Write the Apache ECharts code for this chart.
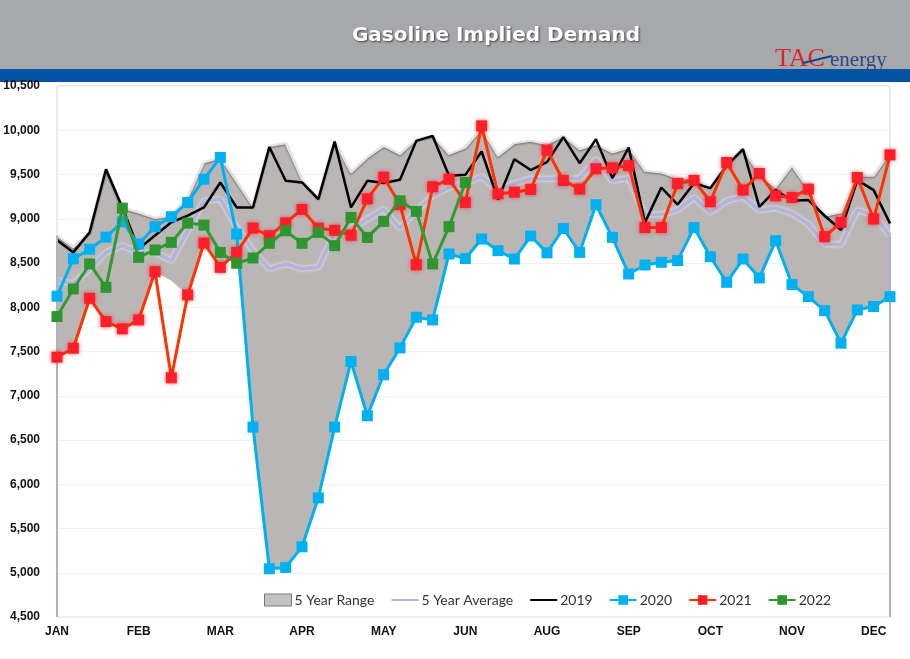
<!DOCTYPE html>
<html>
<head>
<meta charset="utf-8">
<script src="https://cdn.jsdelivr.net/npm/echarts@6/dist/echarts.min.js"></script>
<style>
html,body{margin:0;padding:0;background:#fff;}
#chart{width:910px;height:659px;}
</style>
</head>
<body>
<div id="chart"></div>
<script>
// ---- data ----
const monthLabels = ['JAN','FEB','MAR','APR','MAY','JUN','AUG','SEP','OCT','NOV','DEC'];
const weeks = ['1','2','3','4','5','6','7','8','9','10','11','12','13','14','15','16','17','18','19','20','21','22','23','24','25','26','27','28','29','30','31','32','33','34','35','36','37','38','39','40','41','42','43','44','45','46','47','48','49','50','51','52'];
const yTicks = {min: 4500, max: 10500, step: 500};

const rangeLow = [7436,7537,8101,7838,7756,7857,8402,8300,8139,8726,8451,8620,6646,5045,5060,5293,5846,6646,7387,6774,7237,7541,7887,7857,8602,8550,8771,8639,8545,8805,8615,8890,8620,9158,8790,8376,8478,8508,8527,8900,8571,8282,8545,8331,8752,8256,8120,7962,7594,7970,8008,8120];
const rangeHigh = [8808,8677,8846,9560,9124,9071,9008,9034,9240,9635,9692,9420,9140,9823,9853,9440,9230,9872,9522,9692,9823,9730,9899,9936,9730,9805,10020,9710,9853,9880,9842,9936,9786,9842,9748,9805,9541,9522,9459,9460,9353,9635,9786,9504,9353,9598,9335,9034,9071,9485,9485,9748];
const avg5 = [8301,8271,8432,8620,8696,8620,8620,8526,8865,9203,9222,8903,8639,8433,8489,8433,8451,8840,8895,8995,9109,8893,9090,9260,9350,9400,9475,9320,9400,9453,9453,9456,9459,9673,9429,9459,9053,9045,9100,9240,9071,9203,9248,9098,9121,9060,8940,8715,8707,9098,9045,8808];
const y2019 = [8760,8620,8846,9560,9128,8660,8810,8960,9035,9128,9410,9128,9128,9810,9429,9410,9222,9872,9128,9429,9405,9440,9880,9936,9485,9496,9760,9215,9673,9550,9640,9922,9628,9899,9459,9805,8959,9353,9160,9400,9346,9598,9786,9135,9324,9203,9211,9034,8873,9437,9324,8947];
const y2020 = [8125,8547,8655,8792,8965,8715,8910,9023,9184,9447,9692,8827,6646,5045,5060,5293,5846,6646,7387,6774,7237,7541,7887,7857,8602,8550,8771,8639,8545,8805,8615,8890,8620,9158,8790,8376,8478,8508,8527,8900,8571,8282,8545,8331,8752,8256,8120,7962,7594,7970,8008,8120];
const y2021 = [7436,7537,8101,7838,7756,7857,8402,7203,8139,8726,8451,8620,8895,8808,8953,9105,8893,8869,8814,9225,9470,9160,8480,9361,9447,9184,10049,9282,9300,9330,9776,9433,9335,9565,9575,9600,8900,8900,9398,9433,9192,9635,9324,9511,9259,9240,9335,8797,8959,9466,8997,9722];
const y2022 = [7895,8207,8489,8225,9120,8564,8647,8733,8951,8929,8620,8497,8557,8722,8865,8722,8846,8696,9015,8789,8970,9203,9083,8489,8910,9410];

// ---- chart ----
const rangeSpan = rangeHigh.map((v, i) => v - rangeLow[i]);
const axisFont = "'Liberation Sans Narrow','Liberation Sans',Arial,sans-serif";
const chart = echarts.init(document.getElementById('chart'), null, {renderer: 'canvas'});

function sqSeries(name, data, lineColor, markColor, z, glow) {
  return {
    name, type: 'line', data, z,
    symbol: 'rect', symbolSize: 11, showSymbol: true, showAllSymbol: true,
    lineStyle: {color: lineColor, width: 3},
    itemStyle: Object.assign({color: markColor, borderWidth: 0}, glow ? {shadowColor: glow, shadowBlur: 4} : {}),
    emphasis: {disabled: true}
  };
}

chart.setOption({
  animation: false,
  backgroundColor: '#ffffff',
  grid: {left: 57, right: 20, top: 86, bottom: 42, show: true, borderColor: '#d6d6d6', borderWidth: 1},
  xAxis: {
    type: 'category', data: weeks, boundaryGap: false,
    axisLine: {show: false}, axisTick: {show: false},
    axisLabel: {
      interval: 4, margin: 9, color: '#111', fontWeight: 'bold', fontSize: 12, fontFamily: axisFont,
      formatter: (v, i) => monthLabels[Math.round(i / 5)] || ''
    },
    splitLine: {show: false}
  },
  yAxis: {
    type: 'value', min: yTicks.min, max: yTicks.max, interval: yTicks.step,
    axisLine: {show: false}, axisTick: {show: false},
    axisLabel: {
      margin: 17, color: '#111', fontWeight: 'bold', fontSize: 12, fontFamily: axisFont,
      formatter: v => v.toLocaleString('en-US')
    },
    splitLine: {show: true, lineStyle: {color: '#f1f1f1', width: 1}}
  },
  legend: {
    left: 259, top: 588, itemGap: 16, itemWidth: 27, itemHeight: 12,
    textStyle: {fontFamily: 'Lato, "Open Sans", sans-serif', fontSize: 14, color: '#333', padding: [0,0,0,-2]},
    data: [
      {name: '5 Year Range', icon: 'rect', itemStyle: {color: '#c4c2c2', borderColor: '#7a7a7a', borderWidth: 1}},
      {name: '5 Year Average', itemStyle: {opacity: 0}},
      {name: '2019', itemStyle: {opacity: 0}},
      {name: '2020'},
      {name: '2021'},
      {name: '2022'}
    ]
  },
  series: [
    {
      name: 'rangeBase', type: 'line', data: rangeLow, stack: 'range', symbol: 'none', z: 1,
      lineStyle: {opacity: 0}, silent: true,
      markLine: {
        silent: true, symbol: 'none', label: {show: false},
        lineStyle: {color: '#b0b0cc', width: 2, type: 'solid'},
        data: [
          [{coord: [weeks[0], yTicks.min]}, {coord: [weeks[0], rangeHigh[0]]}],
          [{coord: [weeks[51], yTicks.min]}, {coord: [weeks[51], avg5[51]]}]
        ]
      }
    },
    {
      name: '5 Year Range', type: 'line', data: rangeSpan, stack: 'range', symbol: 'none', z: 2,
      lineStyle: {color: '#e4e2e2', width: 2, shadowColor: 'rgba(0,0,0,0.45)', shadowBlur: 2, shadowOffsetY: 1},
      areaStyle: {color: '#bab6b5', opacity: 1},
      itemStyle: {color: '#c4c2c2'}
    },
    {
      name: '5 Year Average', type: 'line', data: avg5, symbol: 'none', z: 3,
      lineStyle: {color: '#b4b4da', width: 4, shadowColor: 'rgba(255,255,255,0.9)', shadowBlur: 3},
      itemStyle: {color: '#b4b4da'}
    },
    {
      name: '2019', type: 'line', data: y2019, symbol: 'none', z: 4,
      lineStyle: {color: '#000000', width: 2.5},
      itemStyle: {color: '#000000'}
    },
    sqSeries('2020', y2020, '#00b0f0', '#00b0f0', 5, null),
    sqSeries('2021', y2021, '#ff3300', '#ff1f2a', 6, 'rgba(255,0,0,0.6)'),
    sqSeries('2022', y2022, '#339a33', '#2f952f', 7, null)
  ],
  graphic: [
    {type: 'rect', shape: {x: 0, y: 0, width: 910, height: 69}, style: {fill: '#a7a8ab'}, z: -1},
    {type: 'rect', shape: {x: 0, y: 69, width: 910, height: 13}, style: {fill: '#0153a3'}, z: -1},
    {type: 'text', x: 496, y: 36, z: 11, style: {
      text: 'Gasoline Implied Demand', fill: '#ffffff', font: 'bold 20px "DejaVu Sans", sans-serif',
      align: 'center', verticalAlign: 'middle',
      textShadowColor: 'rgba(40,40,40,0.8)', textShadowBlur: 2, textShadowOffsetX: 1, textShadowOffsetY: 1
    }},
    {type: 'text', x: 775, y: 59, z: 11, style: {
      text: 'TAC', fill: '#d8262c', font: '26px "Liberation Serif", serif', verticalAlign: 'middle'
    }},
    {type: 'line', z: 12, shape: {x1: 803, y1: 63, x2: 832, y2: 56}, style: {stroke: '#1e3f88', lineWidth: 2}},
    {type: 'text', x: 830, y: 60, z: 11, style: {
      text: 'energy', fill: '#2a4a86', font: '21px "Liberation Serif", serif', verticalAlign: 'middle'
    }}
  ]
});
</script>
</body>
</html>
